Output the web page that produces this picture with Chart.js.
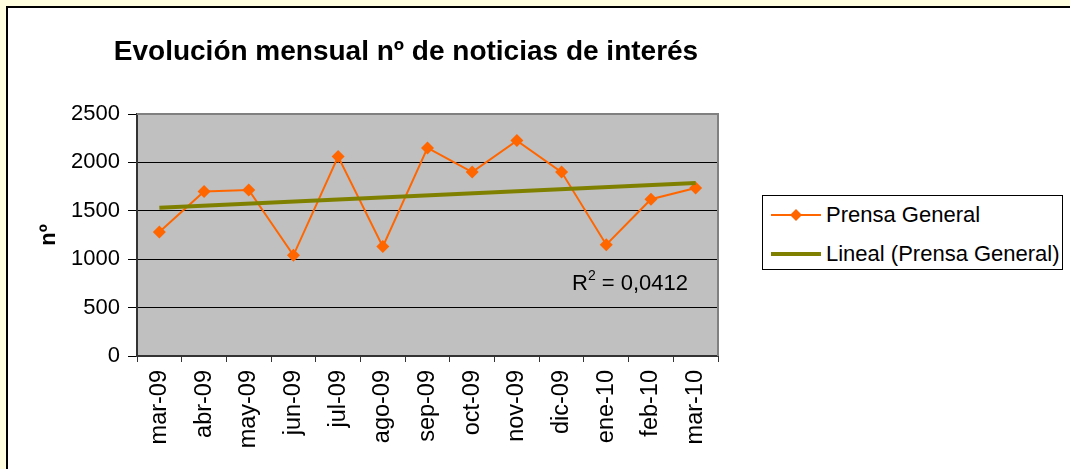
<!DOCTYPE html>
<html><head><meta charset="utf-8">
<script src="https://cdn.jsdelivr.net/npm/chart.js@4.4.0/dist/chart.umd.min.js"></script>
<style>
html,body{margin:0;padding:0;width:1070px;height:469px;overflow:hidden;background:#FFFFE0;font-family:"Liberation Sans",Arial,sans-serif;}
#frame{position:absolute;left:6px;top:6px;width:1100px;height:500px;border-left:2px solid #000;border-top:2px solid #000;background:#fff;}
#c{position:absolute;left:0;top:0;}
#title{position:absolute;left:0;width:812px;top:35px;text-align:center;font:bold 28px "Liberation Sans";color:#000;white-space:nowrap;}
#legend{position:absolute;left:762px;top:195px;width:301px;height:75px;box-sizing:border-box;border:1px solid #000;background:#fff;}
.li{position:absolute;left:0;height:24px;width:300px;}
.li svg{position:absolute;left:8px;top:2px;}
.li span{position:absolute;left:63px;top:0;font:22px "Liberation Sans";line-height:24px;color:#000;white-space:nowrap;}
#r2{position:absolute;left:572px;top:271px;font:22px "Liberation Sans";line-height:24px;color:#000;white-space:nowrap;}
#r2 sup{font-size:14px;vertical-align:0;position:relative;top:-10px;}
</style>
</head><body>
<div id="frame"></div>
<canvas id="c" width="1070" height="469"></canvas>
<div id="title">Evolución mensual nº de noticias de interés</div>
<div id="legend">
  <div class="li" style="top:7px"><svg width="50" height="20"><line x1="0" y1="10" x2="50" y2="10" stroke="#FF6600" stroke-width="2"/><polygon points="25,4 31,10 25,16 19,10" fill="#FF6600"/></svg><span>Prensa General</span></div>
  <div class="li" style="top:46px"><svg width="50" height="20"><line x1="0" y1="10" x2="50" y2="10" stroke="#808000" stroke-width="4"/></svg><span>Lineal (Prensa General)</span></div>
</div>
<div id="r2">R<sup>2</sup> = 0,0412</div>
<script>
const categories = ['mar-09','abr-09','may-09','jun-09','jul-09','ago-09','sep-09','oct-09','nov-09','dic-09','ene-10','feb-10','mar-10'];
const prensaGeneral = [1280,1700,1715,1040,2060,1130,2150,1900,2225,1900,1150,1620,1735];
const linealPrensaGeneral = [1532,null,null,null,null,null,null,null,null,null,null,null,1787];
const yMin = 0, yMax = 2500, yStep = 500;

const plotBg = {
  id:'plotBg',
  beforeDraw(chart){
    const {ctx, chartArea:a} = chart;
    ctx.save();
    ctx.fillStyle = '#C0C0C0';
    ctx.fillRect(a.left, a.top, a.right - a.left, a.bottom - a.top);
    ctx.restore();
  },
  beforeDatasetsDraw(chart){
    const {ctx, chartArea:a} = chart;
    ctx.save();
    ctx.strokeStyle = '#808080';
    ctx.lineWidth = 2;
    ctx.beginPath();
    ctx.moveTo(a.left, a.top);
    ctx.lineTo(a.right, a.top);
    ctx.lineTo(a.right, a.bottom);
    ctx.stroke();
    ctx.restore();
  }
};

Chart.defaults.font.family = '"Liberation Sans", Arial, sans-serif';

new Chart(document.getElementById('c'), {
  type:'line',
  data:{
    labels:categories,
    datasets:[
      {label:'Prensa General', data:prensaGeneral, borderColor:'#FF6600', backgroundColor:'#FF6600',
       borderWidth:2, pointStyle:'rectRot', pointRadius:6.5, pointBorderWidth:0, tension:0, order:1},
      {label:'Lineal (Prensa General)', data:linealPrensaGeneral, borderColor:'#808000', backgroundColor:'#808000',
       borderWidth:4, pointRadius:0, spanGaps:true, tension:0, order:0}
    ]
  },
  options:{
    responsive:false, animation:false, devicePixelRatio:1,
    layout:{padding:{left:0, top:114, right:352, bottom:0}},
    plugins:{legend:{display:false}, title:{display:false}, tooltip:{enabled:false}},
    scales:{
      x:{
        offset:true,
        grid:{offset:true, drawOnChartArea:false, drawTicks:true, tickLength:6, color:'#333', lineWidth:1},
        border:{color:'#333', width:2},
        ticks:{minRotation:90, maxRotation:90, autoSkip:false, padding:8, color:'#000', font:{size:23.5}},
        afterFit(s){ s.height = 113; }
      },
      y:{
        min:yMin, max:yMax,
        ticks:{stepSize:yStep, padding:8, color:'#000', font:{size:22}, callback:(v)=>String(v)},
        grid:{color:'#000', lineWidth:1, tickLength:9},
        border:{color:'#333', width:2},
        title:{display:true, text:'nº', color:'#000', font:{size:22, weight:'bold'}, padding:{top:36, bottom:0}},
        afterFit(s){ s.width = 137; }
      }
    }
  },
  plugins:[plotBg]
});
</script>
</body></html>
